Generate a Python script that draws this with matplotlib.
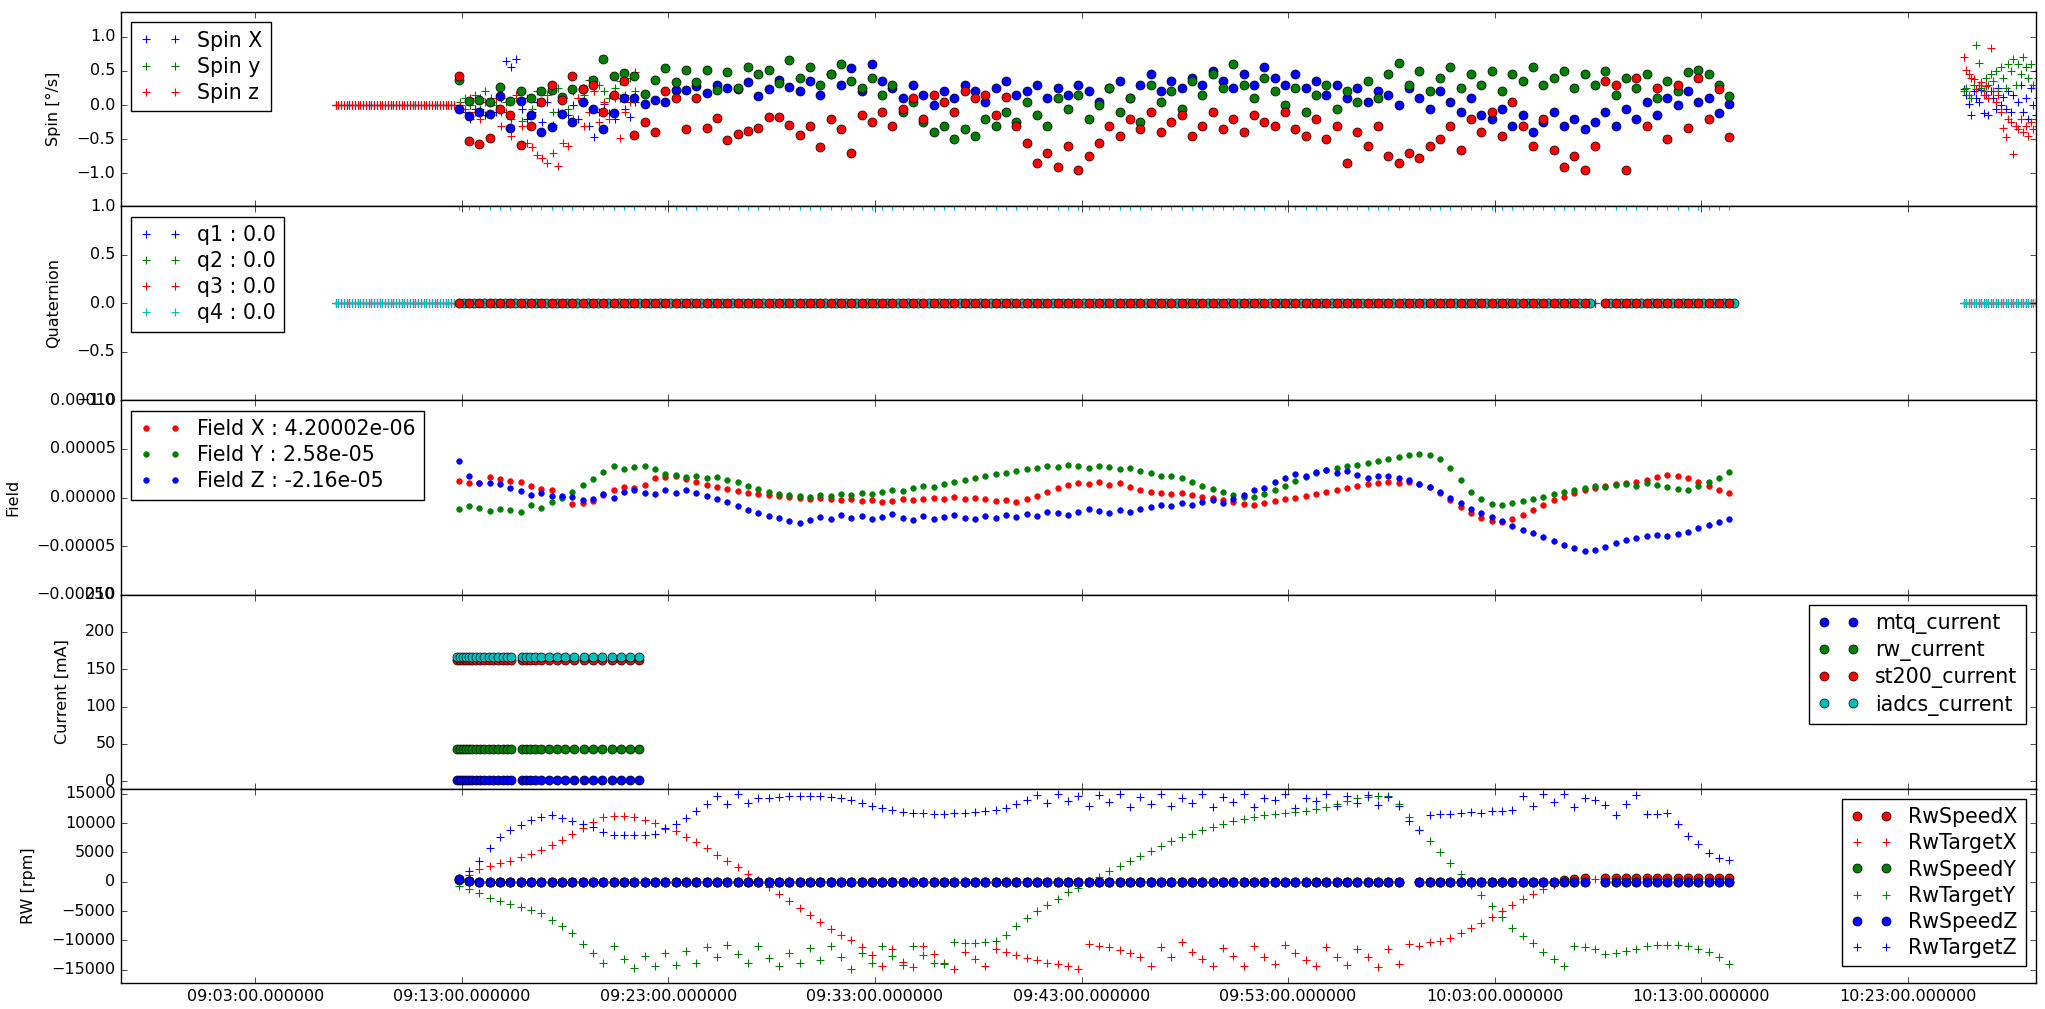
import numpy as np
import matplotlib
matplotlib.use("Agg")
import matplotlib.pyplot as plt
import matplotlib.dates as mdates
from matplotlib.ticker import MultipleLocator
from datetime import datetime

plt.style.use("classic")
plt.rcParams.update({
    "figure.facecolor": "white",
    "savefig.facecolor": "white",
    "font.family": ["DejaVu Sans"],
    "font.size": 11.5,
    "xtick.labelsize": 11.5,
    "ytick.labelsize": 11.5,
    "axes.labelsize": 11.5,
    "axes.labelpad": 11,
    "legend.fontsize": 14.8,
    "legend.labelspacing": 0.3,
    "legend.numpoints": 2,
})

nan = np.nan
BASE = datetime(2017, 1, 1, 9, 0, 0)

# ---------------------------------------------------------------------------
# Sampling (minutes after 09:00)
# ---------------------------------------------------------------------------
IDLE_START, IDLE_STEP = 6.9, 0.133      # attitude idle, fast rate
GRID_START, GRID_STEP = 12.85, 0.5      # main telemetry pass
BURST_START, BURST_STEP = 12.9, 0.25    # gyro burst after switch-on
LATE_START, LATE_STEP = 85.7, 0.12      # second contact

# ---------------------------------------------------------------------------
# Spin rates [deg/s]
# ---------------------------------------------------------------------------
spin_idle = [0.0] * 44

spin_x_burst = [0.0, -0.1, -0.2, -0.05, 0.1, -0.15, 0.05, -0.1, 0.1, 0.65,
                0.55, 0.67, -0.05, -0.2, -0.1, 0.05, -0.25, 0.05, -0.29, -0.1,
                0.1, -0.15, 0.0, -0.2, 0.05, -0.3, -0.46, -0.1, 0.02, -0.12,
                -0.2, 0.1, -0.05, -0.18, 0.05]
spin_y_burst = [0.05, 0.1, 0.0, 0.15, -0.05, 0.2, 0.1, 0.0, -0.1, 0.05,
                -0.2, 0.1, -0.23, 0.1, -0.05, 0.2, 0.05, 0.15, -0.1, 0.25,
                0.1, -0.05, 0.2, 0.1, 0.15, 0.37, 0.2, 0.3, 0.2, 0.1,
                0.25, 0.35, 0.15, 0.4, 0.2]
spin_z_burst = [0.0, -0.05, 0.1, -0.1, -0.2, 0.05, -0.15, 0.1, -0.3, -0.1,
                -0.45, 0.15, -0.3, -0.55, -0.61, -0.73, -0.78, -0.85, -0.7, -0.89,
                -0.55, -0.6, -0.2, 0.1, -0.3, -0.1, 0.2, -0.25, 0.05, -0.2,
                0.1, -0.48, -0.1, 0.05, 0.49]

spin_x_late = [0.23, 0.15, 0.02, -0.15, 0.2, 0.1, 0.05, 0.22, -0.12, 0.15,
               -0.14, 0.2, 0.1, -0.05, 0.25, 0.0, 0.12, -0.05, 0.2, -0.1,
               0.15, -0.3, 0.05, 0.3, -0.1, 0.1, -0.2, 0.25, 0.0, -0.15, 0.1]
spin_y_late = [0.2, 0.25, 0.15, 0.1, 0.3, 0.88, 0.62, 0.25, 0.2, 0.4,
               0.3, 0.45, 0.35, 0.5, 0.2, 0.55, 0.4, 0.25, 0.6, 0.5,
               0.67, 0.3, 0.6, 0.45, 0.7, 0.55, 0.4, 0.6, 0.3, 0.5, 0.4]
spin_z_late = [0.7, 0.51, 0.45, 0.4, 0.38, 0.24, 0.3, 0.34, 0.15, 0.28,
               0.1, 0.84, 0.2, 0.05, 0.15, -0.1, -0.34, -0.47, -0.2, -0.25,
               -0.71, -0.3, -0.35, -0.2, -0.4, -0.3, -0.45, -0.25, -0.35, -0.2, -0.3]

spin_x_est = [-0.05, -0.16, -0.10, -0.13, 0.14, -0.34, 0.06, -0.14, -0.39, -0.32,
              -0.13, -0.24, 0.05, -0.05, -0.35, -0.12, 0.11, 0.11, 0.02, 0.08,
              0.05, 0.22, 0.22, 0.28, 0.18, 0.30, 0.25, 0.23, 0.34, 0.14,
              0.24, 0.37, 0.26, 0.20, 0.35, 0.15, 0.45, 0.30, 0.54, 0.20,
              0.60, 0.35, 0.25, 0.10, 0.30, 0.15, 0.00, 0.20, 0.10, 0.30,
              0.20, 0.05, 0.25, 0.35, 0.15, 0.20, 0.30, 0.10, 0.25, 0.15,
              0.30, 0.20, 0.05, 0.25, 0.35, 0.10, 0.30, 0.45, 0.20, 0.35,
              0.25, 0.40, 0.30, 0.50, 0.35, 0.25, 0.45, 0.30, 0.55, 0.40,
              0.30, 0.45, 0.25, 0.35, 0.15, 0.30, 0.10, 0.25, 0.05, 0.20,
              0.15, 0.00, 0.25, 0.10, -0.05, 0.20, 0.05, -0.10, 0.10, -0.15,
              -0.20, -0.05, -0.30, -0.15, -0.40, -0.25, -0.10, -0.30, -0.20, -0.35,
              -0.25, -0.10, -0.30, -0.05, -0.20, 0.05, -0.15, 0.10, 0.00, 0.20,
              0.05, 0.10, -0.11, 0.02]
spin_y_est = [0.37, 0.06, 0.08, 0.05, 0.26, 0.06, 0.20, 0.10, 0.20, 0.22,
              0.12, 0.24, 0.24, 0.37, 0.68, 0.42, 0.47, 0.42, 0.16, 0.36,
              0.54, 0.34, 0.51, 0.34, 0.51, 0.22, 0.49, 0.25, 0.56, 0.45,
              0.52, 0.32, 0.66, 0.40, 0.55, 0.30, 0.45, 0.60, 0.35, 0.25,
              0.40, 0.15, 0.30, -0.10, 0.05, -0.25, -0.40, -0.30, -0.50, -0.35,
              -0.45, -0.20, -0.30, -0.10, -0.25, 0.05, -0.15, -0.30, 0.10, -0.05,
              0.15, -0.20, 0.00, 0.25, -0.10, 0.10, -0.25, 0.30, 0.05, 0.20,
              -0.05, 0.35, 0.15, 0.45, 0.25, 0.60, 0.30, 0.10, 0.40, 0.20,
              0.00, 0.25, -0.10, 0.15, 0.30, -0.05, 0.20, 0.05, 0.35, 0.10,
              0.45, 0.62, 0.30, 0.50, 0.20, 0.40, 0.55, 0.25, 0.45, 0.30,
              0.50, 0.20, 0.45, 0.35, 0.55, 0.30, 0.40, 0.50, 0.25, 0.45,
              0.30, 0.50, 0.15, 0.40, 0.25, 0.45, 0.10, 0.35, 0.20, 0.48,
              0.52, 0.45, 0.30, 0.13]
spin_z_est = [0.42, -0.52, -0.57, -0.48, -0.05, -0.15, -0.58, -0.31, 0.05, 0.29,
              0.07, 0.42, 0.24, 0.29, -0.10, 0.15, 0.35, -0.44, -0.25, -0.39,
              0.20, 0.10, -0.35, 0.10, -0.33, -0.19, -0.51, -0.43, -0.38, -0.33,
              -0.17, -0.17, -0.29, -0.44, -0.30, -0.62, -0.20, -0.35, -0.70, -0.15,
              -0.25, -0.10, -0.30, -0.05, 0.10, -0.20, 0.15, 0.05, -0.10, 0.20,
              0.10, 0.15, -0.15, 0.12, -0.30, -0.55, -0.85, -0.70, -0.90, -0.60,
              -0.95, -0.75, -0.55, -0.30, -0.45, -0.20, -0.35, -0.10, -0.40, -0.25,
              -0.15, -0.45, -0.30, -0.10, -0.35, -0.20, -0.40, -0.15, -0.25, -0.30,
              -0.10, -0.35, -0.45, -0.20, -0.50, -0.30, -0.85, -0.40, -0.60, -0.30,
              -0.75, -0.85, -0.70, -0.78, -0.60, -0.50, -0.30, -0.65, -0.20, -0.40,
              -0.10, -0.45, 0.05, -0.30, -0.60, -0.20, -0.65, -0.90, -0.75, -0.95,
              -0.60, 0.35, 0.30, -0.95, 0.40, -0.30, 0.25, -0.50, 0.30, -0.34,
              0.39, -0.21, 0.24, -0.46]

# ---------------------------------------------------------------------------
# Quaternion
# ---------------------------------------------------------------------------
quat_idle = [0.0] * 44
quat_late = [0.0] * 31
quat_pass_q123 = [0.0] * 124
quat_pass_q4 = [1.0] * 124
quat_est_q3 = [0.0] * 110 + [nan] + [0.0] * 13
quat_est_q4 = [0.0] * 110 + [nan] + [0.0] * 13

# ---------------------------------------------------------------------------
# Magnetic field [1e-5 T]
# ---------------------------------------------------------------------------
field_x = [1.7, 1.5, 1.5, 2.1, 1.9, 1.7, 1.6, 1.2, 0.9, 0.8,
           0.1, -0.7, -0.6, -0.4, 0.3, 0.8, 1.1, 1.0, 1.3, 2.0,
           2.1, 2.2, 1.9, 1.6, 1.3, 1.1, 0.9, 0.7, 0.5, 0.4,
           0.3, 0.2, 0.1, 0.0, -0.1, 0.0, -0.2, -0.3, -0.2, -0.4,
           -0.3, -0.5, -0.4, -0.2, -0.3, -0.1, 0.0, -0.2, 0.1, -0.1,
           0.0, -0.2, -0.4, -0.3, -0.5, -0.2, 0.2, 0.6, 1.0, 1.3,
           1.5, 1.4, 1.6, 1.3, 1.5, 1.1, 0.8, 0.6, 0.5, 0.4,
           0.5, 0.3, 0.1, 0.0, -0.3, -0.5, -0.7, -0.8, -0.6, -0.4,
           -0.2, 0.0, 0.2, 0.4, 0.6, 0.8, 1.0, 1.2, 1.4, 1.5,
           1.6, 1.5, 1.6, 1.4, 1.1, 0.5, -0.3, -1.0, -1.6, -2.1,
           -2.4, -2.5, -2.2, -1.8, -1.3, -0.8, -0.3, 0.1, 0.5, 0.8,
           1.0, 1.2, 1.4, 1.5, 1.6, 1.8, 2.1, 2.3, 2.2, 2.0,
           1.6, 1.2, 0.8, 0.420002]
field_y = [-1.2, -0.9, -1.1, -1.4, -1.2, -1.3, -1.5, -0.8, -1.1, -0.5,
           0.0, 0.6, 1.3, 1.9, 2.6, 3.2, 2.9, 3.1, 3.2, 2.9,
           2.4, 2.3, 2.1, 2.2, 2.0, 2.1, 1.8, 1.6, 1.2, 0.9,
           0.6, 0.4, 0.3, 0.2, 0.1, 0.3, 0.2, 0.4, 0.3, 0.5,
           0.4, 0.6, 0.8, 0.7, 1.0, 1.2, 1.1, 1.4, 1.6, 1.8,
           2.0, 2.2, 2.4, 2.5, 2.7, 2.9, 3.0, 3.2, 3.1, 3.3,
           3.2, 3.0, 3.2, 3.1, 2.9, 3.0, 2.7, 2.5, 2.2, 2.2,
           2.0, 1.6, 1.2, 0.9, 0.6, 0.3, 0.1, 0.1, 0.4, 0.8,
           1.2, 1.7, 2.1, 2.5, 2.8, 3.0, 3.2, 3.4, 3.6, 3.8,
           4.0, 4.2, 4.4, 4.5, 4.4, 4.0, 3.0, 1.8, 0.6, -0.2,
           -0.7, -0.8, -0.6, -0.4, -0.2, 0.1, 0.4, 0.6, 0.8, 1.0,
           1.2, 1.1, 1.3, 1.4, 1.2, 1.5, 1.3, 1.1, 0.9, 0.8,
           1.2, 1.6, 2.0, 2.58]
field_z = [3.8, 2.2, 1.5, 1.5, 1.4, 1.0, 0.7, 0.3, 0.5, 0.2,
           0.2, 0.1, -0.3, -0.2, 0.4, 0.0, 0.6, 0.8, 0.5, 0.4,
           0.8, 0.5, 0.8, 0.5, 0.2, -0.1, -0.5, -0.9, -1.3, -1.6,
           -1.9, -2.1, -2.4, -2.6, -2.3, -2.0, -2.2, -1.8, -2.1, -1.9,
           -2.2, -2.0, -1.7, -2.1, -2.3, -1.9, -2.2, -2.0, -1.8, -2.1,
           -2.2, -1.9, -2.1, -1.8, -2.0, -1.7, -1.9, -1.5, -1.6, -1.8,
           -1.5, -1.2, -1.4, -1.6, -1.3, -1.5, -1.2, -1.0, -0.8, -0.9,
           -0.6, -0.8, -0.5, -0.3, -0.6, -0.2, 0.3, 0.8, 1.0, 1.6,
           2.0, 2.4, 2.2, 2.6, 2.8, 2.5, 2.7, 2.3, 2.0, 2.2,
           2.2, 2.0, 1.8, 1.4, 1.1, 0.6, 0.0, -0.6, -1.2, -1.6,
           -2.0, -2.4, -2.9, -3.3, -3.7, -4.1, -4.5, -4.9, -5.2, -5.5,
           -5.4, -5.1, -4.7, -4.4, -4.2, -4.0, -3.9, -4.0, -3.8, -3.5,
           -3.1, -2.8, -2.5, -2.16]

# ---------------------------------------------------------------------------
# Subsystem currents [mA]
# ---------------------------------------------------------------------------
current_t = [12.75, 12.9, 13.05, 13.2, 13.35, 13.5, 13.7, 13.9, 14.1, 14.3,
             14.5, 14.75, 15.0, 15.2, 15.4, 15.9, 16.1, 16.3, 16.55, 16.85,
             17.2, 17.6, 18.0, 18.45, 18.9, 19.35, 19.8, 20.25, 20.7, 21.15, 21.6]
mtq_current = [1.2, 1.5, 1.4, 1.6, 1.3, 1.5, 1.4, 1.6, 1.5, 1.3,
               1.4, 1.5, 1.6, 1.4, 1.5, 1.3, 1.5, 1.4, 1.6, 1.5,
               1.4, 1.5, 1.3, 1.6, 1.4, 1.5, 1.4, 1.5, 1.6, 1.4, 1.5]
rw_current = [43.5, 43.8, 43.2, 43.6, 43.4, 43.9, 43.3, 43.7, 43.5, 43.2,
              43.6, 43.8, 43.4, 43.5, 43.7, 43.3, 43.6, 43.5, 43.8, 43.4,
              43.5, 43.6, 43.3, 43.7, 43.5, 43.4, 43.6, 43.5, 43.8, 43.4, 43.5]
st200_current = [162.3, 162.0, 162.5, 162.2, 161.9, 162.4, 162.1, 162.3, 162.0, 162.4,
                 162.2, 161.8, 162.3, 162.1, 162.4, 162.2, 162.0, 162.3, 162.1, 162.4,
                 162.2, 162.0, 162.3, 162.1, 162.2, 162.4, 162.0, 162.3, 162.2, 162.1, 162.3]
iadcs_current = [166.8, 166.5, 167.0, 166.6, 166.9, 166.4, 166.7, 166.9, 166.5, 166.8,
                 166.6, 167.0, 166.7, 166.5, 166.8, 166.6, 166.9, 166.7, 166.5, 166.8,
                 166.6, 166.9, 166.7, 166.8, 166.5, 166.7, 166.9, 166.6, 166.8, 166.7, 166.6]

# ---------------------------------------------------------------------------
# Reaction wheels [1000 rpm]
# ---------------------------------------------------------------------------
rw_speed_x = [0.5, 0.2] + [0.0] * 90 + [nan] + [0.0] * 14 + [0.3, 0.5, 0.6] + [nan] + [0.7] * 13
rw_speed_y = [0.3, 0.1] + [0.0] * 90 + [nan] + [0.0] * 17 + [nan] + [0.0] * 13
rw_speed_z = [0.4, 0.15] + [0.0] * 90 + [nan] + [0.0] * 17 + [nan] + [0.0] * 13

rw_target_x = [0.3, 1.2, 2.1, 2.7, 3.2, 3.6, 4.2, 4.8, 5.4, 6.2,
               7.2, 8.1, 9.2, 10.2, 11.0, 11.2, 11.2, 11.1, 10.6, 10.0,
               9.0, 8.6, 7.7, 6.8, 5.7, 4.6, 3.6, 2.5, 1.4, 0.3,
               -0.9, -2.1, -3.3, -4.4, -5.6, -6.8, -8.0, -9.1, -9.9, -11.2,
               -12.4, -14.3, -11.5, -13.6, -14.6, -10.9, -12.3, -13.8, -14.8, -11.9,
               -13.1, -14.3, -11.4, -11.9, -12.5, -13.0, -13.4, -13.8, -14.0, -14.4,
               -14.9, -10.6, -11.0, -11.2, -11.7, -12.2, -12.8, -14.3, -11.2, -12.8,
               -10.3, -11.9, -13.1, -14.3, -11.3, -12.6, -14.3, -11.0, -12.8, -14.0,
               -10.8, -12.2, -13.4, -14.3, -11.2, -12.9, -14.2, -11.5, -12.9, -14.6,
               -11.5, -14.0, -10.6, -10.9, -10.3, -10.1, -9.6, -8.8, -7.9, -7.0,
               -6.0, -5.0, -4.0, -3.0, -2.1, -1.3, -0.6, 0.0, 0.3, 0.4,
               0.5, 0.5, 0.5, 0.5, 0.5, 0.6, 0.6, 0.6, 0.6, 0.6,
               0.6, 0.6, 0.5, 0.5]
rw_target_y = [-0.7, -1.3, -1.9, -2.7, -3.2, -3.8, -4.3, -4.8, -5.3, -6.5,
               -7.5, -8.8, -10.6, -12.2, -13.8, -11.0, -13.2, -14.7, -12.6, -14.4,
               -12.1, -14.2, -11.8, -13.8, -11.1, -12.8, -10.7, -12.3, -13.8, -11.0,
               -13.0, -14.3, -12.1, -13.8, -11.3, -13.4, -10.9, -12.8, -14.8, -12.1,
               -13.8, -10.9, -12.6, -14.2, -10.9, -12.4, -13.9, -14.1, -10.3, -10.4,
               -10.4, -10.3, -10.1, -9.0, -7.6, -6.2, -5.0, -3.9, -2.9, -1.8,
               -1.0, -0.1, 0.8, 1.8, 2.7, 3.6, 4.4, 5.3, 6.1, 6.9,
               7.6, 8.2, 8.8, 9.4, 9.9, 10.3, 10.7, 11.0, 11.3, 11.5,
               11.7, 11.9, 12.1, 12.4, 12.8, 13.3, 13.8, 14.2, 14.5, 14.6,
               14.6, 13.2, 11.0, 8.9, 7.0, 5.1, 3.2, 1.4, -0.5, -2.3,
               -4.2, -6.0, -7.8, -9.3, -10.5, -11.9, -13.1, -14.3, -11.0, -11.1,
               -11.4, -12.3, -12.1, -11.8, -11.4, -11.0, -10.8, -10.7, -10.7, -10.9,
               -11.5, -12.0, -12.8, -14.0]
rw_target_z = [0.3, 1.8, 3.5, 5.8, 7.6, 8.9, 9.6, 10.6, 11.1, 11.4,
               10.8, 10.3, 9.9, 9.3, 8.4, 8.0, 8.0, 8.0, 8.0, 8.2,
               9.1, 9.9, 10.9, 12.0, 13.3, 14.6, 13.2, 14.9, 13.5, 14.3,
               14.3, 14.5, 14.6, 14.7, 14.7, 14.6, 14.4, 14.2, 13.9, 13.5,
               13.0, 12.6, 12.2, 11.9, 11.8, 11.7, 11.6, 11.6, 11.7, 11.8,
               11.9, 12.0, 12.2, 12.6, 13.2, 14.0, 14.8, 13.4, 14.9, 13.8,
               14.6, 12.9, 14.8, 13.6, 15.0, 12.7, 14.4, 13.3, 14.9, 12.9,
               14.2, 13.5, 15.0, 12.8, 14.5, 13.6, 14.9, 12.8, 14.3, 13.9,
               14.9, 12.6, 14.2, 13.8, 15.0, 12.9, 14.6, 13.5, 14.8, 13.1,
               14.5, 12.9, 10.4, 8.8, 11.3, 11.5, 11.6, 11.8, 11.9, 11.8,
               12.0, 12.1, 12.3, 14.6, 12.9, 14.9, 13.6, 15.0, 12.8, 14.3,
               14.0, 13.1, 11.3, 13.3, 14.8, 11.6, 11.5, 11.7, 9.9, 7.8,
               6.5, 4.9, 4.0, 3.7]


# ---------------------------------------------------------------------------
def to_num(minutes):
    return mdates.date2num(BASE) + np.asarray(minutes, dtype=float) / 1440.0


def stamps(start, step, values):
    return to_num(start + step * np.arange(len(values)))


def joined(*parts):
    """Concatenate (times, values) chunks into one series."""
    t = np.concatenate([p[0] for p in parts])
    v = np.concatenate([np.asarray(p[1], dtype=float) for p in parts])
    return t, v


PLUS = dict(marker="+", linestyle="none", markersize=6, markeredgewidth=0.8)
DOT = dict(marker="o", linestyle="none", markersize=6.5,
           markeredgecolor="k", markeredgewidth=0.5)
SMALL = dict(marker=".", linestyle="none", markersize=8)

BLUE, GREEN, RED, CYAN = "#0000ff", "#008000", "#ff0000", "#00bfbf"

fig, axes = plt.subplots(5, 1, sharex=True, figsize=(20.45, 10.09))
fig.subplots_adjust(left=0.0592, right=0.9956, top=0.988, bottom=0.0258, hspace=0)
ax_spin, ax_quat, ax_field, ax_cur, ax_rw = axes

# --- Spin ------------------------------------------------------------------
for burst, late, color, label in [(spin_x_burst, spin_x_late, BLUE, "Spin X"),
                                  (spin_y_burst, spin_y_late, GREEN, "Spin y"),
                                  (spin_z_burst, spin_z_late, RED, "Spin z")]:
    t, v = joined((stamps(IDLE_START, IDLE_STEP, spin_idle), spin_idle),
                  (stamps(BURST_START, BURST_STEP, burst), burst),
                  (stamps(LATE_START, LATE_STEP, late), late))
    ax_spin.plot(t, v, color=color, markeredgecolor=color, label=label, **PLUS)
for est, color in [(spin_x_est, BLUE), (spin_y_est, GREEN), (spin_z_est, RED)]:
    ax_spin.plot(stamps(GRID_START, GRID_STEP, est), est, color=color,
                 markerfacecolor=color, **DOT)
ax_spin.set_ylim(-1.48, 1.36)
ax_spin.yaxis.set_major_locator(MultipleLocator(0.5))
ax_spin.set_ylabel("Spin [°/s]")
ax_spin.legend(loc="upper left")

# --- Quaternion ------------------------------------------------------------
for name, mid, color in [("q1", quat_pass_q123, BLUE), ("q2", quat_pass_q123, GREEN),
                         ("q3", quat_pass_q123, RED), ("q4", quat_pass_q4, CYAN)]:
    t, v = joined((stamps(IDLE_START, IDLE_STEP, quat_idle), quat_idle),
                  (stamps(GRID_START, GRID_STEP, mid), mid),
                  (stamps(LATE_START, LATE_STEP, quat_late), quat_late))
    ax_quat.plot(t, v, color=color, markeredgecolor=color,
                 label=f"{name} : {v[-1]}", **PLUS)
ax_quat.plot(stamps(GRID_START + GRID_STEP / 2, GRID_STEP, quat_est_q4), quat_est_q4,
             color=CYAN, markerfacecolor=CYAN, **DOT)
ax_quat.plot(stamps(GRID_START, GRID_STEP, quat_est_q3), quat_est_q3,
             color=RED, markerfacecolor=RED, **DOT)
ax_quat.set_ylim(-1.0, 1.0)
ax_quat.yaxis.set_major_locator(MultipleLocator(0.5))
ax_quat.set_ylabel("Quaternion")
ax_quat.legend(loc="upper left")

# --- Field -----------------------------------------------------------------
for name, vals, color in [("Field X", field_x, RED), ("Field Y", field_y, GREEN),
                          ("Field Z", field_z, BLUE)]:
    tesla = np.asarray(vals) * 1e-5
    ax_field.plot(stamps(GRID_START, GRID_STEP, vals), tesla, color=color,
                  markerfacecolor=color, markeredgecolor=color,
                  label=f"{name} : {tesla[-1]:g}", **SMALL)
ax_field.set_ylim(-1e-4, 1e-4)
ax_field.yaxis.set_major_locator(MultipleLocator(5e-5))
ax_field.set_ylabel("Field")
ax_field.legend(loc="upper left")

# --- Current ---------------------------------------------------------------
t_cur = to_num(current_t)
for name, vals, color in [("mtq_current", mtq_current, BLUE),
                          ("rw_current", rw_current, GREEN),
                          ("st200_current", st200_current, RED),
                          ("iadcs_current", iadcs_current, CYAN)]:
    ax_cur.plot(t_cur, vals, color=color, markerfacecolor=color, label=name, **DOT)
ax_cur.set_ylim(-10, 250)
ax_cur.yaxis.set_major_locator(MultipleLocator(50))
ax_cur.set_ylabel("Current [mA]")
ax_cur.legend(loc="upper right")

# --- Reaction wheels -------------------------------------------------------
for axis, speed, target, color in [("X", rw_speed_x, rw_target_x, RED),
                                   ("Y", rw_speed_y, rw_target_y, GREEN),
                                   ("Z", rw_speed_z, rw_target_z, BLUE)]:
    ax_rw.plot(stamps(GRID_START, GRID_STEP, speed), np.asarray(speed) * 1000,
               color=color, markerfacecolor=color, label=f"RwSpeed{axis}", **DOT)
    ax_rw.plot(stamps(GRID_START, GRID_STEP, target), np.asarray(target) * 1000,
               color=color, markeredgecolor=color, label=f"RwTarget{axis}", **PLUS)
ax_rw.set_ylim(-17250, 15850)
ax_rw.yaxis.set_major_locator(MultipleLocator(5000))
ax_rw.set_ylabel("RW [rpm]")
ax_rw.legend(loc="upper right")

# --- Shared time axis ------------------------------------------------------
ax_rw.xaxis.set_major_locator(mdates.MinuteLocator(byminute=range(3, 60, 10)))
ax_rw.xaxis.set_major_formatter(mdates.DateFormatter("%H:%M:%S.%f"))
ax_rw.set_xlim(to_num(-3.49), to_num(89.2))

fig.savefig("out.png", dpi=100)
